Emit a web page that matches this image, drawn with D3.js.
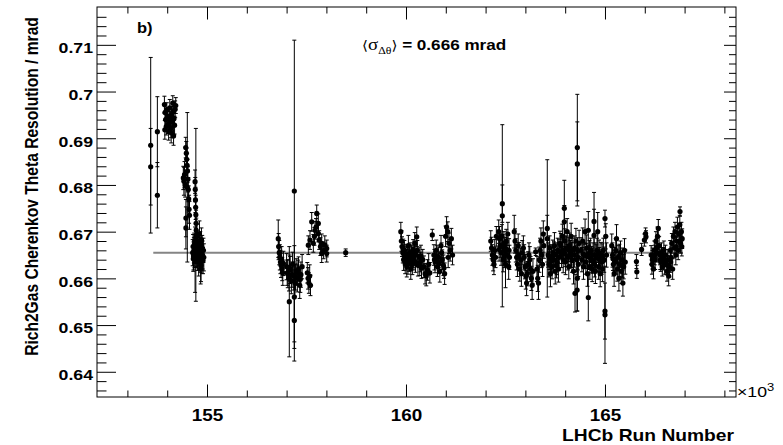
<!DOCTYPE html>
<html><head><meta charset="utf-8">
<script src="https://cdn.jsdelivr.net/npm/d3@7"></script>
<style>body{margin:0;background:#fff}svg{display:block}</style>
</head><body>
<svg id="c" width="783" height="445"></svg>
<script>
// ---- data: [run number, Cherenkov theta resolution (mrad), error] ----
const runsEarly = [[153585,0.6885,0.0188],[153585,0.6839,0.0082],[153753,0.6914,0.0075],[153753,0.6778,0.0070]];
const runs154a = [[153930,0.6972,0.0018],[153940,0.6918,0.0020],[153945,0.6955,0.0017],[153960,0.6940,0.0019],[153975,0.6925,0.0018],[153990,0.6960,0.0016],[154005,0.6948,0.0018],[154020,0.6930,0.0020],[154035,0.6915,0.0019],[154050,0.6945,0.0017],[154065,0.6965,0.0018],[154080,0.6938,0.0019],[154095,0.6922,0.0021],[154100,0.6912,0.0022],[154110,0.6950,0.0018],[154125,0.6935,0.0019],[154140,0.6975,0.0016],[154155,0.6958,0.0018],[154160,0.6905,0.0020],[154170,0.6942,0.0017],[154185,0.6928,0.0019],[154200,0.6962,0.0018],[154215,0.6970,0.0017]];
const runs154b = [[154405,0.6815,0.0025],[154420,0.6808,0.0030],[154435,0.6822,0.0028],[154450,0.6800,0.0026],[154465,0.6880,0.0022],[154480,0.6868,0.0025],[154490,0.6855,0.0024],[154500,0.6842,0.0026],[154510,0.6830,0.0025],[154520,0.6812,0.0027],[154530,0.6790,0.0026],[154540,0.6770,0.0028],[154550,0.6748,0.0030],[154560,0.6735,0.0030],[154470,0.6729,0.0040],[154470,0.6708,0.0045],[154505,0.6795,0.0160],
  [154700,0.6807,0.0025],[154705,0.6790,0.0026],[154710,0.6768,0.0027],[154715,0.6752,0.0026],[154720,0.6736,0.0185],[154725,0.6718,0.0028],[154730,0.6703,0.0026],[154735,0.6690,0.0027]];
const runs154c = [[154640,0.6655,0.0028],[154650,0.6668,0.0026],[154660,0.6648,0.0030],[154670,0.6660,0.0027],[154680,0.6672,0.0025],[154690,0.6652,0.0029],[154700,0.6640,0.0070],[154710,0.6662,0.0026],[154720,0.6678,0.0028],[154730,0.6650,0.0027],[154740,0.6665,0.0030],[154750,0.6690,0.0026],[154760,0.6645,0.0028],[154770,0.6658,0.0025],[154780,0.6670,0.0027],[154790,0.6635,0.0030],[154800,0.6662,0.0026],[154810,0.6695,0.0028],[154820,0.6648,0.0027],[154830,0.6675,0.0025],[154840,0.6620,0.0032],[154850,0.6655,0.0028],[154860,0.6682,0.0026],[154870,0.6640,0.0029],[154880,0.6665,0.0027],[154890,0.6650,0.0030],[154900,0.6638,0.0028],[154910,0.6660,0.0026],[154920,0.6645,0.0029],[154850,0.6628,0.0035],
  [154655,0.6642,0.0027],[154675,0.6668,0.0026],[154695,0.6660,0.0028],[154745,0.6652,0.0027],[154765,0.6672,0.0026],[154795,0.6655,0.0028],[154825,0.6640,0.0027],[154865,0.6660,0.0026]];
const runs157 = [[156790,0.6685,0.0040],[156800,0.6668,0.0028],[156815,0.6655,0.0026],[156830,0.6645,0.0027],[156845,0.6635,0.0025],[156860,0.6628,0.0026],[156875,0.6640,0.0028],[156890,0.6620,0.0025],[156905,0.6612,0.0027],[156920,0.6632,0.0026],
  [157000,0.6625,0.0028],[157030,0.6610,0.0030],[157060,0.6600,0.0027],[157090,0.6618,0.0029],[157120,0.6595,0.0028],[157150,0.6630,0.0026],[157180,0.6605,0.0030],[157210,0.6590,0.0028],[157240,0.6615,0.0027],[157270,0.6600,0.0029],[157300,0.6620,0.0026],[157330,0.6585,0.0028],[157360,0.6608,0.0027],[157390,0.6625,0.0026],
  [157015,0.6612,0.0027],[157075,0.6622,0.0028],[157135,0.6608,0.0027],[157225,0.6603,0.0028],[157285,0.6612,0.0027],[157345,0.6598,0.0028],
  [157068,0.6550,0.0118],[157194,0.6510,0.0087],[157194,0.6560,0.0110],[157194,0.6787,0.0323],
  [157520,0.6612,0.0022],[157540,0.6600,0.0023],[157560,0.6590,0.0022],[157580,0.6605,0.0024],[157600,0.6585,0.0022]];
const runs158 = [[157631,0.6721,0.0020],[157757,0.6739,0.0018],[157797,0.6718,0.0020],[157714,0.6703,0.0019],[157588,0.6682,0.0020],[157797,0.6696,0.0018],[157672,0.6675,0.0019],[157882,0.6675,0.0020],[158008,0.6664,0.0018],[157882,0.6653,0.0019],[158008,0.6653,0.0018],[157546,0.6671,0.0020],[157700,0.6690,0.0019],[157740,0.6710,0.0018],[157820,0.6682,0.0020],[157850,0.6668,0.0019],[157930,0.6660,0.0018],[157960,0.6672,0.0019],
  [158485,0.6655,0.0008]];
const runs160 = [[159870,0.6700,0.0020],[159885,0.6680,0.0022],[159900,0.6668,0.0021],[159920,0.6655,0.0022],[159940,0.6640,0.0023],[159960,0.6660,0.0021],[159980,0.6632,0.0022],[160000,0.6650,0.0023],[160020,0.6625,0.0022],[160040,0.6645,0.0021],[160060,0.6670,0.0022],[160080,0.6638,0.0023],[160100,0.6655,0.0021],[160120,0.6620,0.0022],[160140,0.6648,0.0023],[160160,0.6630,0.0022],[160180,0.6662,0.0021],[160200,0.6640,0.0022],[160220,0.6675,0.0023],[160270,0.6689,0.0021],[160250,0.6650,0.0022],[160300,0.6628,0.0023],[160330,0.6645,0.0022],[160360,0.6635,0.0021],[160390,0.6622,0.0022],
  [159930,0.6662,0.0022],[159970,0.6648,0.0021],[160010,0.6640,0.0022],[160050,0.6632,0.0023],[160090,0.6650,0.0022],[160130,0.6638,0.0021],[160170,0.6645,0.0022],[160210,0.6655,0.0023],[160240,0.6635,0.0022],[160285,0.6660,0.0021],[160345,0.6628,0.0022],[160375,0.6648,0.0023],
  [160420,0.6640,0.0022],[160450,0.6625,0.0023],[160480,0.6610,0.0022],[160510,0.6605,0.0021],[160540,0.6618,0.0022],[160570,0.6630,0.0023],[160600,0.6612,0.0022],
  [160661,0.6693,0.0012]];
const runs161 = [[160700,0.6650,0.0022],[160730,0.6635,0.0023],[160760,0.6660,0.0022],[160790,0.6625,0.0021],[160820,0.6645,0.0022],[160850,0.6615,0.0023],[160880,0.6670,0.0022],[160910,0.6640,0.0021],[160940,0.6628,0.0022],[160970,0.6610,0.0023],
  [160715,0.6640,0.0022],[160775,0.6648,0.0023],[160835,0.6632,0.0022],[160895,0.6655,0.0021],[160955,0.6622,0.0022],
  [160995,0.6690,0.0022],[161020,0.6710,0.0022],[161050,0.6700,0.0021],[161080,0.6675,0.0022],[161110,0.6660,0.0023],[161140,0.6685,0.0022],[161170,0.6650,0.0021],[161060,0.6645,0.0022]];
const runs162 = [[162130,0.6680,0.0022],[162150,0.6665,0.0023],[162170,0.6650,0.0022],[162190,0.6640,0.0024],[162210,0.6630,0.0022],[162230,0.6660,0.0023],[162250,0.6645,0.0022],[162270,0.6690,0.0021],
  [162420,0.6734,0.0195],[162420,0.6760,0.0040],[162330,0.6700,0.0025],[162350,0.6685,0.0026],[162370,0.6670,0.0025],[162390,0.6655,0.0027],[162410,0.6690,0.0025],[162440,0.6640,0.0026],[162460,0.6675,0.0025],[162480,0.6660,0.0027],[162500,0.6630,0.0050],[162520,0.6680,0.0025],[162540,0.6650,0.0026],[162560,0.6695,0.0025],[162580,0.6625,0.0027],[162600,0.6645,0.0026],
  [162340,0.6662,0.0025],[162430,0.6668,0.0026],[162470,0.6648,0.0025],[162530,0.6662,0.0026],[162590,0.6660,0.0025],
  [162720,0.6700,0.0035],[162740,0.6680,0.0026],[162760,0.6660,0.0025],[162780,0.6645,0.0027],[162800,0.6630,0.0026],[162820,0.6670,0.0025],[162840,0.6650,0.0027],[162860,0.6620,0.0026],[162880,0.6640,0.0025],[162900,0.6610,0.0027],[162920,0.6655,0.0026]];
const runs163 = [[162950,0.6665,0.0026],[162970,0.6645,0.0027],[162990,0.6625,0.0026],[163010,0.6605,0.0028],[163030,0.6590,0.0027],[163050,0.6610,0.0026],[163070,0.6630,0.0027],[163090,0.6650,0.0026],[163110,0.6640,0.0028],[163130,0.6620,0.0027],[163150,0.6600,0.0026],[163170,0.6585,0.0030],[163190,0.6615,0.0027],
  [163259,0.6657,0.0008],
  [163290,0.6620,0.0027],[163310,0.6600,0.0028],[163330,0.6590,0.0035],[163350,0.6640,0.0027],[163370,0.6660,0.0026],[163390,0.6680,0.0028],[163410,0.6650,0.0027],[163430,0.6630,0.0026],[163450,0.6695,0.0028],[163465,0.6670,0.0027],
  [163550,0.6707,0.0147],[163550,0.6685,0.0050],
  [163570,0.6650,0.0026],[163590,0.6630,0.0027],[163610,0.6665,0.0026],[163630,0.6610,0.0028],[163650,0.6645,0.0027],[163670,0.6625,0.0026],[163690,0.6655,0.0027],[163710,0.6640,0.0026],[163730,0.6670,0.0028],[163750,0.6615,0.0027],[163770,0.6650,0.0026],[163790,0.6635,0.0027],[163810,0.6660,0.0026],[163830,0.6620,0.0028],[163850,0.6645,0.0027],[163870,0.6675,0.0026],
  [163600,0.6645,0.0026],[163660,0.6638,0.0027],[163720,0.6652,0.0026],[163780,0.6628,0.0027],[163840,0.6658,0.0026]];
const runs164 = [[163978,0.6750,0.0060],[163978,0.6721,0.0035],
  [163890,0.6670,0.0026],[163910,0.6650,0.0027],[163930,0.6690,0.0026],[163950,0.6640,0.0028],[163970,0.6660,0.0027],[163990,0.6680,0.0026],[164010,0.6635,0.0027],[164030,0.6665,0.0026],[164050,0.6700,0.0028],[164070,0.6645,0.0027],[164090,0.6625,0.0026],[164110,0.6670,0.0027],[164130,0.6655,0.0026],[164150,0.6690,0.0028],[164170,0.6640,0.0027],[164190,0.6660,0.0026],[164210,0.6615,0.0027],[164230,0.6650,0.0026],[164247,0.6568,0.0040],[164270,0.6680,0.0027],[164290,0.6640,0.0026],[164310,0.6660,0.0027],[164330,0.6630,0.0026],[164350,0.6675,0.0028],[164300,0.6575,0.0045],
  [163920,0.6658,0.0026],[164000,0.6652,0.0027],[164080,0.6662,0.0026],[164160,0.6650,0.0027],[164240,0.6665,0.0026],[164320,0.6645,0.0027],
  [164305,0.6880,0.0114],[164305,0.6845,0.0090],[164305,0.6600,0.0070]];
const runs165 = [[164400,0.6660,0.0027],[164420,0.6640,0.0026],[164440,0.6680,0.0028],[164460,0.6625,0.0027],[164480,0.6650,0.0026],[164500,0.6700,0.0027],[164520,0.6635,0.0026],[164540,0.6665,0.0028],[164560,0.6610,0.0027],[164581,0.6703,0.0040],[164581,0.6559,0.0050],[164600,0.6645,0.0026],[164620,0.6625,0.0027],[164640,0.6660,0.0026],[164660,0.6640,0.0028],[164680,0.6620,0.0027],[164700,0.6650,0.0026],[164725,0.6722,0.0062],[164725,0.6692,0.0056],[164740,0.6630,0.0027],[164760,0.6615,0.0026],[164780,0.6645,0.0027],[164800,0.6660,0.0026],[164817,0.6700,0.0041],[164840,0.6625,0.0027],[164860,0.6640,0.0026],[164880,0.6610,0.0028],[164900,0.6650,0.0027],[164920,0.6635,0.0026],[164940,0.6620,0.0027],[164960,0.6660,0.0026],[164980,0.6640,0.0027],[165000,0.6728,0.0018],[165000,0.6522,0.0104],[165000,0.6530,0.0060],[165020,0.6690,0.0027],[165040,0.6650,0.0026],
  [164450,0.6652,0.0026],[164530,0.6648,0.0027],[164610,0.6655,0.0026],[164690,0.6638,0.0027],[164770,0.6650,0.0026],[164850,0.6655,0.0027],[164930,0.6648,0.0026],
  [165170,0.6670,0.0025],[165190,0.6650,0.0026],[165210,0.6630,0.0025],[165230,0.6610,0.0027],[165250,0.6640,0.0026],[165270,0.6660,0.0025],[165290,0.6685,0.0030],[165310,0.6620,0.0026],[165330,0.6645,0.0025],[165350,0.6600,0.0027],[165370,0.6630,0.0026],[165390,0.6655,0.0025],[165410,0.6615,0.0026],[165430,0.6640,0.0025],[165450,0.6590,0.0028],[165470,0.6625,0.0026],[165490,0.6660,0.0025],[165510,0.6635,0.0026],
  [165200,0.6642,0.0025],[165280,0.6635,0.0026],[165360,0.6648,0.0025],[165440,0.6628,0.0026]];
const runs166 = [[165790,0.6636,0.0015],[165800,0.6614,0.0014],
  [165920,0.6662,0.0013],[165990,0.6682,0.0013],[166020,0.6696,0.0012],[166030,0.6689,0.0013],
  [166160,0.6650,0.0020],[166180,0.6630,0.0021],[166200,0.6645,0.0020],[166220,0.6620,0.0021],[166240,0.6660,0.0020],[166260,0.6640,0.0021],[166280,0.6680,0.0020],[166300,0.6665,0.0021],[166320,0.6690,0.0020],[166340,0.6707,0.0019],[166360,0.6670,0.0020],[166380,0.6650,0.0021],[166400,0.6635,0.0020],[166420,0.6655,0.0021],[166440,0.6625,0.0020],[166460,0.6645,0.0021],[166480,0.6660,0.0020],[166500,0.6630,0.0021],
  [166190,0.6640,0.0020],[166250,0.6650,0.0021],[166310,0.6655,0.0020],[166390,0.6640,0.0021],[166470,0.6638,0.0020],
  [166520,0.6650,0.0021],[166540,0.6630,0.0022],[166560,0.6615,0.0021],[166580,0.6640,0.0022],[166600,0.6605,0.0021],[166620,0.6625,0.0022],[166640,0.6660,0.0021],[166660,0.6645,0.0022],[166680,0.6675,0.0021],[166700,0.6620,0.0022],
  [166570,0.6628,0.0021],[166650,0.6635,0.0022],
  [166720,0.6690,0.0020],[166740,0.6665,0.0021],[166760,0.6700,0.0020],[166780,0.6650,0.0021],[166800,0.6680,0.0020],[166820,0.6710,0.0021],[166840,0.6660,0.0020],[166860,0.6695,0.0021],[166880,0.6715,0.0020],[166900,0.6675,0.0021],[166920,0.6700,0.0020],[166940,0.6685,0.0021],[166885,0.6743,0.0010],
  [166790,0.6668,0.0020],[166870,0.6680,0.0021],[166930,0.6668,0.0020]];

const meanResolution = 0.6655;          // fitted constant (horizontal line)
const fitRunRange = [153650, 166960];
const xMajorTicks = [155000, 160000, 165000];
const xMinorTicks = [153000,154000,156000,157000,158000,159000,161000,162000,163000,164000,166000,167000,168000];
const yMajorTicks = [0.64,0.65,0.66,0.67,0.68,0.69,0.70,0.71];
const yMinorTicks = [0.636,0.638,0.642,0.644,0.646,0.648,0.652,0.654,0.656,0.658,0.662,0.664,0.666,0.668,0.672,0.674,0.676,0.678,0.682,0.684,0.686,0.688,0.692,0.694,0.696,0.698,0.702,0.704,0.706,0.708,0.712,0.714,0.716];

const allPoints = [].concat(runsEarly, runs154a, runs154b, runs154c, runs157, runs158, runs160, runs161, runs162, runs163, runs164, runs165, runs166);

// ---- drawing ----
const SX = 1.18; // horizontal stretch of the original picture's text
const svg = d3.select('#c');
const L = 97, R = 736, T = 7, B = 397;
const x = d3.scaleLinear().domain([152236, 168292]).range([L, R]);
const y = d3.scaleLinear().domain([0.6346, 0.7181]).range([B, T]);
const FONT = '"Liberation Sans", Arial, Helvetica, sans-serif';

function stretchText(g) {
  g.selectAll('text').each(function () {
    const t = d3.select(this);
    const xx = +t.attr('x') || 0, yy = +t.attr('y') || 0;
    t.attr('x', 0).attr('y', 0).attr('transform', `translate(${xx},${yy}) scale(${SX},1)`);
  });
}
function styleAxis(g) {
  g.select('.domain').remove();
  g.selectAll('line').attr('stroke', '#000').attr('stroke-width', 1);
}

// fit line
svg.append('line')
  .attr('x1', x(fitRunRange[0])).attr('x2', x(fitRunRange[1]))
  .attr('y1', y(meanResolution)).attr('y2', y(meanResolution))
  .attr('stroke', '#858585').attr('stroke-width', 2);

// error bars
svg.append('g').selectAll('path').data(allPoints).join('path')
  .attr('d', d => {
    const cx = x(d[0]), y1 = y(d[1] + d[2]), y2 = y(d[1] - d[2]);
    return `M${cx},${y1}V${y2}M${cx - 2},${y1}H${cx + 2}M${cx - 2},${y2}H${cx + 2}`;
  })
  .attr('fill', 'none').attr('stroke', '#000').attr('stroke-width', 1);

// markers
svg.append('g').selectAll('circle').data(allPoints).join('circle')
  .attr('cx', d => x(d[0])).attr('cy', d => y(d[1])).attr('r', 2.6).attr('fill', '#000');

// frame
svg.append('rect').attr('x', L).attr('y', T).attr('width', R - L).attr('height', B - T)
  .attr('fill', 'none').attr('stroke', '#000').attr('stroke-width', 1);

// bottom axis
const gxb = svg.append('g').attr('transform', `translate(0,${B})`)
  .call(d3.axisBottom(x).tickValues(xMajorTicks).tickSizeInner(-12.5).tickSizeOuter(0).tickPadding(13).tickFormat(d => d / 1000));
styleAxis(gxb);
gxb.selectAll('text').attr('font-family', FONT).attr('font-weight', 'bold').attr('font-size', 16).attr('fill', '#000');
stretchText(gxb);
const gxbm = svg.append('g').attr('transform', `translate(0,${B})`)
  .call(d3.axisBottom(x).tickValues(xMinorTicks).tickSizeInner(-6.5).tickSizeOuter(0).tickFormat(''));
styleAxis(gxbm);
// top axis
const gxt = svg.append('g').attr('transform', `translate(0,${T})`)
  .call(d3.axisTop(x).tickValues(xMajorTicks).tickSizeInner(-12.5).tickSizeOuter(0).tickFormat(''));
styleAxis(gxt);
const gxtm = svg.append('g').attr('transform', `translate(0,${T})`)
  .call(d3.axisTop(x).tickValues(xMinorTicks).tickSizeInner(-6.5).tickSizeOuter(0).tickFormat(''));
styleAxis(gxtm);
// left axis
const gyl = svg.append('g').attr('transform', `translate(${L},0)`)
  .call(d3.axisLeft(y).tickValues(yMajorTicks).tickSizeInner(-19).tickSizeOuter(0).tickPadding(4).tickFormat(d => String(+d.toFixed(2))));
styleAxis(gyl);
gyl.selectAll('text').attr('font-family', FONT).attr('font-weight', 'bold').attr('font-size', 15).attr('fill', '#000').attr('dy', '0.52em');
stretchText(gyl);
const gylm = svg.append('g').attr('transform', `translate(${L},0)`)
  .call(d3.axisLeft(y).tickValues(yMinorTicks).tickSizeInner(-9.5).tickSizeOuter(0).tickFormat(''));
styleAxis(gylm);
// right axis
const gyr = svg.append('g').attr('transform', `translate(${R},0)`)
  .call(d3.axisRight(y).tickValues(yMajorTicks).tickSizeInner(-12).tickSizeOuter(0).tickFormat(''));
styleAxis(gyr);
const gyrm = svg.append('g').attr('transform', `translate(${R},0)`)
  .call(d3.axisRight(y).tickValues(yMinorTicks).tickSizeInner(-7).tickSizeOuter(0).tickFormat(''));
styleAxis(gyrm);

// texts
svg.append('text').attr('transform', `translate(38,186.5) rotate(-90) scale(1,${SX})`)
  .attr('text-anchor', 'middle').attr('font-family', FONT).attr('font-weight', 'bold').attr('font-size', 15.6).attr('fill', '#000')
  .text('Rich2Gas Cherenkov Theta Resolution / mrad');

svg.append('text').attr('transform', `translate(734,441) scale(${SX},1)`)
  .attr('text-anchor', 'end').attr('font-family', FONT).attr('font-weight', 'bold').attr('font-size', 16.3).attr('fill', '#000')
  .text('LHCb Run Number');

const ex = svg.append('text').attr('transform', `translate(737,397) scale(${SX},1)`)
  .attr('font-family', FONT).attr('font-size', 15).attr('fill', '#000');
ex.append('tspan').text('×10');
ex.append('tspan').attr('font-size', 11).attr('dy', -6).text('3');

svg.append('text').attr('transform', `translate(137,33) scale(${SX},1)`)
  .attr('font-family', FONT).attr('font-weight', 'bold').attr('font-size', 14).attr('fill', '#000').text('b)');

const lab = svg.append('text').attr('transform', `translate(362,50) scale(${SX},1)`)
  .attr('font-family', FONT).attr('font-size', 14).attr('fill', '#000');
lab.append('tspan').attr('font-family', '"DejaVu Sans", sans-serif').attr('font-size', 13).text('⟨');
lab.append('tspan').attr('font-family', '"Liberation Serif", "DejaVu Serif", serif').attr('font-size', 16).text('σ');
lab.append('tspan').attr('font-family', '"Liberation Serif", "DejaVu Serif", serif').attr('font-size', 10).attr('dy', 4).text('Δθ');
lab.append('tspan').attr('font-family', '"DejaVu Sans", sans-serif').attr('font-size', 13).attr('dy', -4).text('⟩');
lab.append('tspan').attr('font-weight', 'bold').attr('font-size', 14.5).text(' = 0.666 mrad');
</script>
</body></html>
